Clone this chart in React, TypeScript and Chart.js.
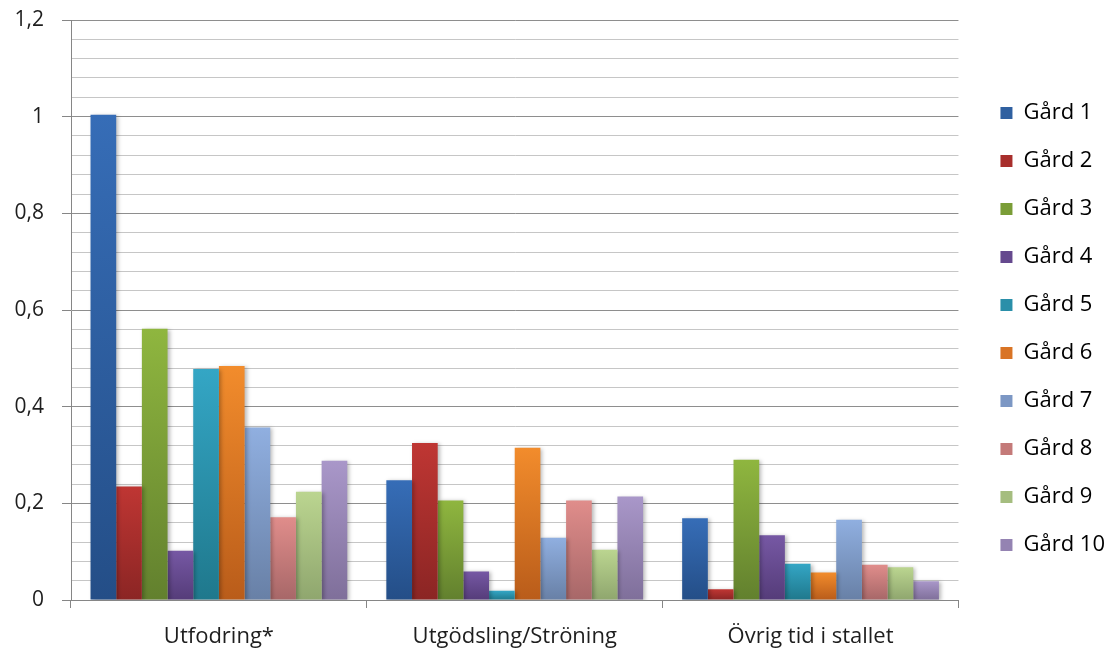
import React, { useEffect, useRef } from "react";
import { Chart, registerables } from "chart.js";

Chart.register(...registerables);

// Categories on the x axis
const categories = ["Utfodring*", "Utgödsling/Ströning", "Övrig tid i stallet"];

// One series per farm (Gård 1 … Gård 10), values per category
const gard1 = [1.004, 0.248, 0.169];
const gard2 = [0.235, 0.325, 0.022];
const gard3 = [0.561, 0.206, 0.29];
const gard4 = [0.102, 0.059, 0.134];
const gard5 = [0.478, 0.019, 0.075];
const gard6 = [0.484, 0.315, 0.057];
const gard7 = [0.357, 0.129, 0.166];
const gard8 = [0.171, 0.206, 0.073];
const gard9 = [0.224, 0.104, 0.068];
const gard10 = [0.288, 0.214, 0.039];

const seriesNames = ["Gård 1", "Gård 2", "Gård 3", "Gård 4", "Gård 5", "Gård 6", "Gård 7", "Gård 8", "Gård 9", "Gård 10"];
const seriesValues = [gard1, gard2, gard3, gard4, gard5, gard6, gard7, gard8, gard9, gard10];

// Labelled y ticks (major gridlines every 0.2)
const yTickLabels = ["0", "0,2", "0,4", "0,6", "0,8", "1", "1,2"];

// Bar fills: [top, bottom] of the vertical gradient, plus legend swatch
const palette: [string, string, string][] = [
  ["#366db7", "#244e87", "#2f60a0"],
  ["#bf3633", "#8b2524", "#a82e2c"],
  ["#8fb63f", "#62802e", "#7a9d37"],
  ["#7658a4", "#553c79", "#65498e"],
  ["#34a6c5", "#1f788c", "#2a8fa9"],
  ["#f28c2c", "#b95c1a", "#d97425"],
  ["#90afe0", "#6880a6", "#7c97c4"],
  ["#e08d8b", "#a76768", "#c47a79"],
  ["#bbd590", "#8fa66e", "#a5bd7f"],
  ["#a997c9", "#7f6f9a", "#9483b2"],
];

const FONT = "'Open Sans', 'Liberation Sans', sans-serif";
const TEXT = "#1e1e1e";
const AXIS = "#868686";

const isMajor = (v: number) => Math.round(v * 100) % 20 === 0;

// Soft drop shadow behind the bars
const barShadow = {
  id: "barShadow",
  beforeDatasetsDraw(chart: Chart) {
    const ctx = chart.ctx;
    ctx.save();
    ctx.shadowColor = "rgba(0,0,0,0.28)";
    ctx.shadowBlur = 4;
    ctx.shadowOffsetX = 2;
    ctx.shadowOffsetY = 1;
  },
  afterDatasetsDraw(chart: Chart) {
    chart.ctx.restore();
  },
};

export default function App() {
  const canvasRef = useRef<HTMLCanvasElement | null>(null);

  useEffect(() => {
    if (!canvasRef.current) return;

    const datasets = seriesNames.map((name, i) => ({
      label: name,
      data: seriesValues[i],
      backgroundColor: (c: any) => {
        const [top, bottom, mid] = palette[i];
        const chart = c.chart;
        if (c.type !== "data" || !chart.chartArea || !chart.scales.y) return mid;
        const v = c.parsed ? c.parsed.y : c.raw;
        const y = chart.scales.y;
        const y0 = y.getPixelForValue(v);
        const y1 = y.getPixelForValue(0);
        if (!isFinite(y0) || !isFinite(y1) || y0 === y1) return mid;
        const g = chart.ctx.createLinearGradient(0, y0, 0, y1);
        g.addColorStop(0, top);
        g.addColorStop(1, bottom);
        return g;
      },
      borderWidth: 0,
      categoryPercentage: 0.868,
      barPercentage: 1,
    }));

    const chart = new Chart(canvasRef.current, {
      type: "bar",
      data: { labels: categories, datasets },
      plugins: [barShadow],
      options: {
        responsive: false,
        animation: false,
        layout: { padding: { top: 8, right: 0, left: 0, bottom: 0 } },
        plugins: {
          tooltip: { enabled: false },
          legend: {
            position: "right",
            labels: {
              color: TEXT,
              font: { family: FONT, size: 22 },
              boxWidth: 12,
              boxHeight: 12,
              padding: 26,
              generateLabels: (ch: Chart) =>
                ch.data.datasets.map((ds, i) => ({
                  text: ds.label as string,
                  fillStyle: palette[i][2],
                  strokeStyle: palette[i][2],
                  lineWidth: 0,
                  hidden: false,
                  datasetIndex: i,
                })),
            },
          },
        },
        scales: {
          x: {
            grid: {
              display: true,
              drawOnChartArea: false,
              drawTicks: true,
              tickLength: 8,
              color: AXIS,
              offset: true,
            },
            border: { display: true, color: AXIS, width: 1 },
            ticks: {
              color: TEXT,
              font: { family: FONT, size: 22 },
              padding: 16,
              maxRotation: 0,
            },
            afterFit: (s: any) => {
              s.height = 50;
            },
          },
          y: {
            min: 0,
            max: 1.2,
            grid: {
              color: (c: any) => (isMajor(c.tick.value) ? "#8e8e8e" : "#c6c6c6"),
              tickColor: (c: any) => (isMajor(c.tick.value) ? AXIS : "rgba(0,0,0,0)"),
              tickLength: 9,
              drawTicks: true,
            },
            border: { display: true, color: AXIS, width: 1 },
            ticks: {
              stepSize: 0.04,
              autoSkip: false,
              color: TEXT,
              font: { family: FONT, size: 21 },
              padding: 18,
              callback: (v: any) => {
                const n = Number(v);
                return isMajor(n) ? yTickLabels[Math.round(n / 0.2)] : "";
              },
            },
            afterFit: (s: any) => {
              s.width = 71;
              s.paddingTop = 20;
            },
          },
          gap: {
            type: "linear",
            position: "right",
            display: true,
            grid: { display: false, drawTicks: false },
            border: { display: false },
            ticks: { display: false },
            afterFit: (s: any) => {
              s.width = 16;
              s.paddingTop = 0;
              s.paddingBottom = 0;
            },
          },
        },
      },
    } as any);

    return () => chart.destroy();
  }, []);

  return (
    <div style={{ position: "fixed", left: 0, top: 0, width: 1115, height: 650, background: "#fff" }}>
      <canvas ref={canvasRef} width={1115} height={650} style={{ display: "block" }} />
    </div>
  );
}
